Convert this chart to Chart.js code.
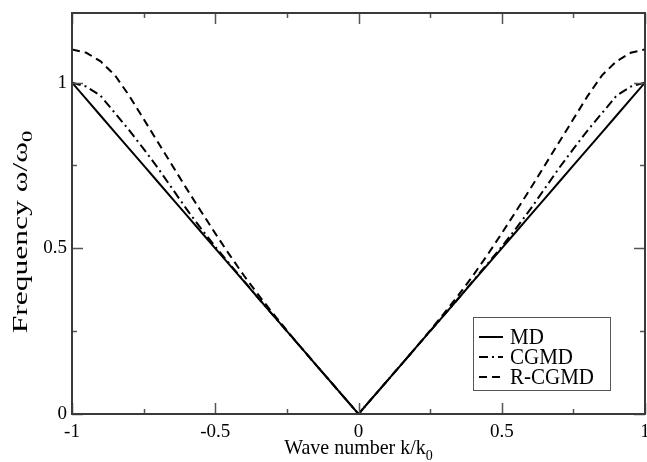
<!DOCTYPE html>
<html>
<head>
<meta charset="utf-8">
<script src="https://cdn.jsdelivr.net/npm/chart.js@4/dist/chart.umd.min.js"></script>
<style>
html,body{margin:0;padding:0;background:#fff;}
#wrap{width:647px;height:462px;position:relative;}
</style>
</head>
<body>
<div id="wrap"><canvas id="c" width="647" height="462"></canvas></div>
<script>
// ---- data ----
const waveNumbers = [-1,-0.95,-0.9,-0.85,-0.8,-0.75,-0.7,-0.65,-0.6,-0.55,-0.5,-0.45,-0.4,-0.35,-0.3,-0.25,-0.2,-0.15,-0.1,-0.05,
  0,0.05,0.1,0.15,0.2,0.25,0.3,0.35,0.4,0.45,0.5,0.55,0.6,0.65,0.7,0.75,0.8,0.85,0.9,0.95,1];
const mdValues = [1,0.95,0.9,0.85,0.8,0.75,0.7,0.65,0.6,0.55,0.5,0.45,0.4,0.35,0.3,0.25,0.2,0.15,0.1,0.05,
  0,0.05,0.1,0.15,0.2,0.25,0.3,0.35,0.4,0.45,0.5,0.55,0.6,0.65,0.7,0.75,0.8,0.85,0.9,0.95,1];
const cgmdValues = [1.0,0.988,0.96,0.908,0.856,0.8,0.742,0.68,0.618,0.56,0.505,0.453,0.402,0.35,0.3,0.25,0.2,0.15,0.1,0.05,
  0,0.05,0.1,0.15,0.2,0.25,0.3,0.35,0.402,0.453,0.505,0.56,0.618,0.68,0.742,0.8,0.856,0.908,0.96,0.988,1.0];
const rcgmdValues = [1.1,1.09,1.064,1.022,0.96,0.89,0.82,0.75,0.68,0.612,0.545,0.48,0.418,0.36,0.305,0.252,0.2,0.15,0.1,0.05,
  0,0.05,0.1,0.15,0.2,0.252,0.305,0.36,0.418,0.48,0.545,0.612,0.68,0.75,0.82,0.89,0.96,1.022,1.064,1.09,1.1];
const seriesNames = ['MD','CGMD','R-CGMD'];
const xMajorTicks = [-1,-0.5,0,0.5,1];
const xMinorTicks = [-0.75,-0.25,0.25,0.75];
const yMajorTicks = [0,0.5,1];
const yMinorTicks = [0.25,0.75];

const SERIF = '"Liberation Serif","Times New Roman",serif';
const toPts = ys => waveNumbers.map((k,i)=>({x:k,y:ys[i]}));
const styles = [
  {dash:[]},
  {dash:[9,4,2,4]},
  {dash:[8,5]}
];
const fmt = v => (Math.abs(v)<1e-9 ? '0' : String(v));

const framePlugin = {
  id:'frame',
  afterDatasetsDraw(chart){
    const ctx = chart.ctx, a = chart.chartArea;
    const xs = chart.scales.x, ys = chart.scales.y;
    ctx.save();
    // ticks (inward, all four sides)
    ctx.strokeStyle = '#555'; ctx.lineWidth = 1.5;
    const tick = (v,len,axis)=>{
      ctx.beginPath();
      if(axis==='x'){
        const p = Math.round(xs.getPixelForValue(v))+0.5;
        ctx.moveTo(p,a.bottom); ctx.lineTo(p,a.bottom-len);
        ctx.moveTo(p,a.top); ctx.lineTo(p,a.top+len);
      } else {
        const p = Math.round(ys.getPixelForValue(v))+0.5;
        ctx.moveTo(a.left,p); ctx.lineTo(a.left+len,p);
        ctx.moveTo(a.right,p); ctx.lineTo(a.right-len,p);
      }
      ctx.stroke();
    };
    xMajorTicks.forEach(v=>tick(v,11,'x'));
    xMinorTicks.forEach(v=>tick(v,5,'x'));
    yMajorTicks.forEach(v=>tick(v,11,'y'));
    yMinorTicks.forEach(v=>tick(v,5,'y'));
    // frame
    ctx.strokeStyle = '#3a3a3a'; ctx.lineWidth = 2;
    ctx.strokeRect(a.left, a.top, a.right-a.left, a.bottom-a.top);

    // legend
    const lx = 473, ly = 317, lw = 137, lh = 73;
    ctx.fillStyle = '#fff'; ctx.fillRect(lx,ly,lw,lh);
    ctx.strokeStyle = '#555'; ctx.lineWidth = 1;
    ctx.strokeRect(lx+0.5,ly+0.5,lw,lh);
    ctx.textBaseline='middle'; ctx.textAlign='left';
    chart.data.datasets.forEach((ds,i)=>{
      const y = ly + 20 + i*20;
      ctx.strokeStyle = '#000'; ctx.lineWidth = 2; ctx.setLineDash(ds.borderDash||[]);
      ctx.beginPath(); ctx.moveTo(479,y); ctx.lineTo(503,y); ctx.stroke();
      ctx.setLineDash([]);
      ctx.save();
      ctx.translate(510, y+1);
      ctx.scale(1, 1.12);
      ctx.font = '21px '+SERIF;
      ctx.fillStyle = '#000'; ctx.fillText(ds.label, 0, 0);
      ctx.restore();
    });

    // axis titles with subscripts
    ctx.fillStyle = '#000';
    ctx.textBaseline = 'alphabetic';
    // x title
    const main = 'Wave number k/k';
    ctx.font = '20px '+SERIF;
    const mw = ctx.measureText(main).width;
    ctx.font = '14px '+SERIF;
    const sw = ctx.measureText('0').width;
    const cx = (a.left+a.right)/2;
    let x0 = cx - (mw+sw)/2;
    ctx.save();
    ctx.translate(x0, 454);
    ctx.scale(1, 1.1);
    ctx.font = '20px '+SERIF; ctx.textAlign='left';
    ctx.fillText(main, 0, 0);
    ctx.font = '14px '+SERIF;
    ctx.fillText('0', mw, 5);
    ctx.restore();
    // y title (stretched along its length like the reference)
    ctx.save();
    ctx.translate(27, 232);
    ctx.rotate(-Math.PI/2);
    ctx.scale(1.5, 1);
    const ymain = 'Frequency ω/ω';
    ctx.font = '21px '+SERIF;
    const ymw = ctx.measureText(ymain).width;
    ctx.font = '15px '+SERIF;
    const ysw = ctx.measureText('0').width;
    let y0 = -(ymw+ysw)/2;
    ctx.font = '21px '+SERIF;
    ctx.fillText(ymain, y0, 0);
    ctx.font = '15px '+SERIF;
    ctx.fillText('0', y0+ymw, 5);
    ctx.restore();
    ctx.restore();
  }
};

new Chart(document.getElementById('c'), {
  type:'line',
  data:{
    datasets: [mdValues,cgmdValues,rcgmdValues].map((ys,i)=>({
      label: seriesNames[i],
      data: toPts(ys),
      borderColor:'#000',
      borderWidth:2,
      borderDash: styles[i].dash,
      pointRadius:0,
      tension:0,
      fill:false
    }))
  },
  options:{
    responsive:false,
    animation:false,
    devicePixelRatio:1,
    layout:{padding:{top:13,right:2,left:0,bottom:0}},
    plugins:{legend:{display:false},tooltip:{enabled:false}},
    scales:{
      x:{
        type:'linear', min:-1, max:1,
        grid:{display:false, drawTicks:false},
        border:{display:false},
        afterBuildTicks: s=>{ s.ticks = xMajorTicks.map(v=>({value:v})); },
        afterFit: s=>{ s.height = 48; s.paddingLeft = 0; s.paddingRight = 0; },
        ticks:{ color:'#000', padding:7, maxRotation:0, autoSkip:false,
          font:{family:SERIF,size:19}, callback: v=>fmt(v) }
      },
      y:{
        type:'linear', min:0, max:1.21,
        grid:{display:false, drawTicks:false},
        border:{display:false},
        afterBuildTicks: s=>{ s.ticks = yMajorTicks.map(v=>({value:v})); },
        afterFit: s=>{ s.width = 72; s.paddingTop = 0; s.paddingBottom = 0; },
        ticks:{ color:'#000', padding:5, autoSkip:false,
          font:{family:SERIF,size:19}, callback: v=>fmt(v) }
      }
    }
  },
  plugins:[framePlugin]
});
</script>
</body>
</html>
